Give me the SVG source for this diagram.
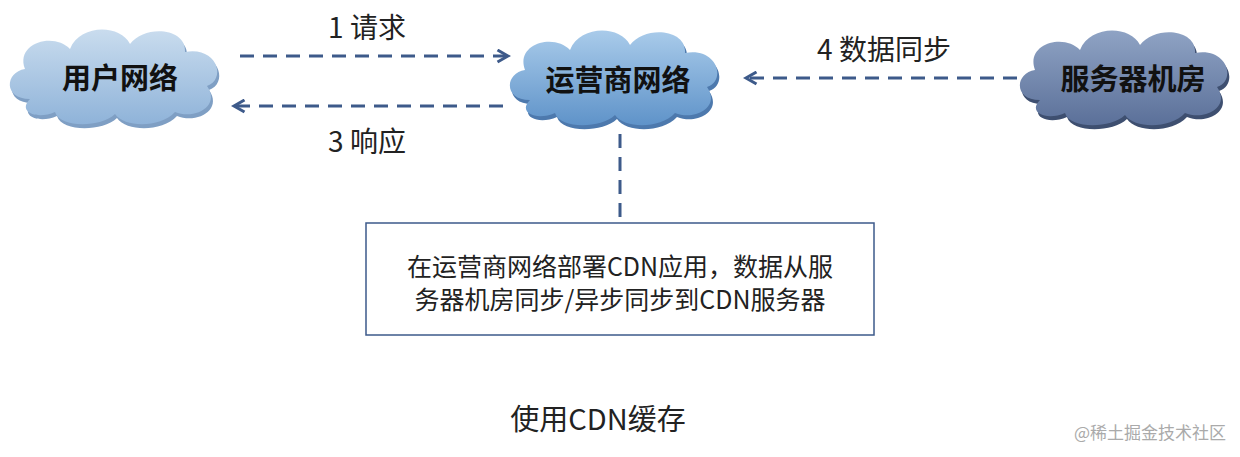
<svg xmlns="http://www.w3.org/2000/svg" width="1240" height="457" viewBox="0 0 1240 457">
<style>
.ct{font-family:"Noto Sans CJK SC","Liberation Sans",sans-serif;font-weight:bold;font-size:29px;fill:#111;text-anchor:middle}
.lb{font-family:"Noto Sans CJK SC","Liberation Sans",sans-serif;font-size:28px;fill:#222;text-anchor:middle}
.ln{stroke:#3d5a8a;stroke-width:3;stroke-dasharray:14,9;fill:none}
</style>
<defs>
<path id="cloud" d="M-85,25 C-112,25 -110,-2 -90,-5 C-100,-32 -60,-42 -45,-25 C-35,-50 5,-50 15,-30 C30,-50 72,-46 70,-22 C102,-28 112,5 92,12 C106,32 80,46 60,38 C45,54 10,54 0,40 C-15,54 -55,54 -60,38 C-78,46 -98,38 -85,25 Z"/>
<linearGradient id="g1" x1="0" y1="0" x2="0" y2="1"><stop offset="0" stop-color="#c9dcee"/><stop offset="1" stop-color="#8fb3d9"/></linearGradient>
<linearGradient id="g2" x1="0" y1="0" x2="0" y2="1"><stop offset="0" stop-color="#a9cbea"/><stop offset="1" stop-color="#5f93c9"/></linearGradient>
<linearGradient id="g3" x1="0" y1="0" x2="0" y2="1"><stop offset="0" stop-color="#8fa3c4"/><stop offset="1" stop-color="#5b7099"/></linearGradient>
<marker id="ah" viewBox="0 0 10 10" refX="8" refY="5" markerWidth="5" markerHeight="5" orient="auto"><path d="M1,1 L8,5 L1,9" fill="none" stroke="#3d5a8a" stroke-width="2"/></marker>
</defs>
<rect width="1240" height="457" fill="#fff"/>
<g id="edges">
<line class="ln" x1="240" y1="56" x2="508" y2="56" marker-end="url(#ah)"/>
<line class="ln" x1="503" y1="106" x2="234" y2="106" marker-end="url(#ah)"/>
<line class="ln" x1="1017" y1="78" x2="746" y2="78" marker-end="url(#ah)"/>
<line class="ln" x1="620" y1="134" x2="620" y2="220"/>
<text class="lb" x="367" y="38">1 请求</text>
<text class="lb" x="367" y="152">3 响应</text>
<text class="lb" x="884" y="60">4 数据同步</text>
</g>
<g id="user">
<use href="#cloud" transform="translate(117,78)" fill="#7f9fc4"/>
<use href="#cloud" transform="translate(115,74)" fill="url(#g1)"/>
<text class="ct" x="120" y="89">用户网络</text>
</g>
<g id="operator">
<use href="#cloud" transform="translate(617,79)" fill="#4d79ad"/>
<use href="#cloud" transform="translate(615,75)" fill="url(#g2)"/>
<text class="ct" x="618" y="91">运营商网络</text>
</g>
<g id="server">
<use href="#cloud" transform="translate(1127,79)" fill="#3e4f70"/>
<use href="#cloud" transform="translate(1125,75)" fill="url(#g3)"/>
<text class="ct" x="1133" y="90">服务器机房</text>
</g>
<g id="note">
<rect x="366" y="223" width="508" height="112" fill="#fff" stroke="#3d5a8a" stroke-width="1.5"/>
<text class="lb" x="620" y="276" style="font-size:25px">在运营商网络部署CDN应用，数据从服</text>
<text class="lb" x="620" y="309" style="font-size:25px">务器机房同步/异步同步到CDN服务器</text>
</g>
<text class="lb" x="598" y="430" style="font-size:29px">使用CDN缓存</text>
<text x="1226" y="439" style="font-family:'Noto Sans CJK SC',sans-serif;font-size:17px;fill:#aaa;text-anchor:end">@稀土掘金技术社区</text>
</svg>
